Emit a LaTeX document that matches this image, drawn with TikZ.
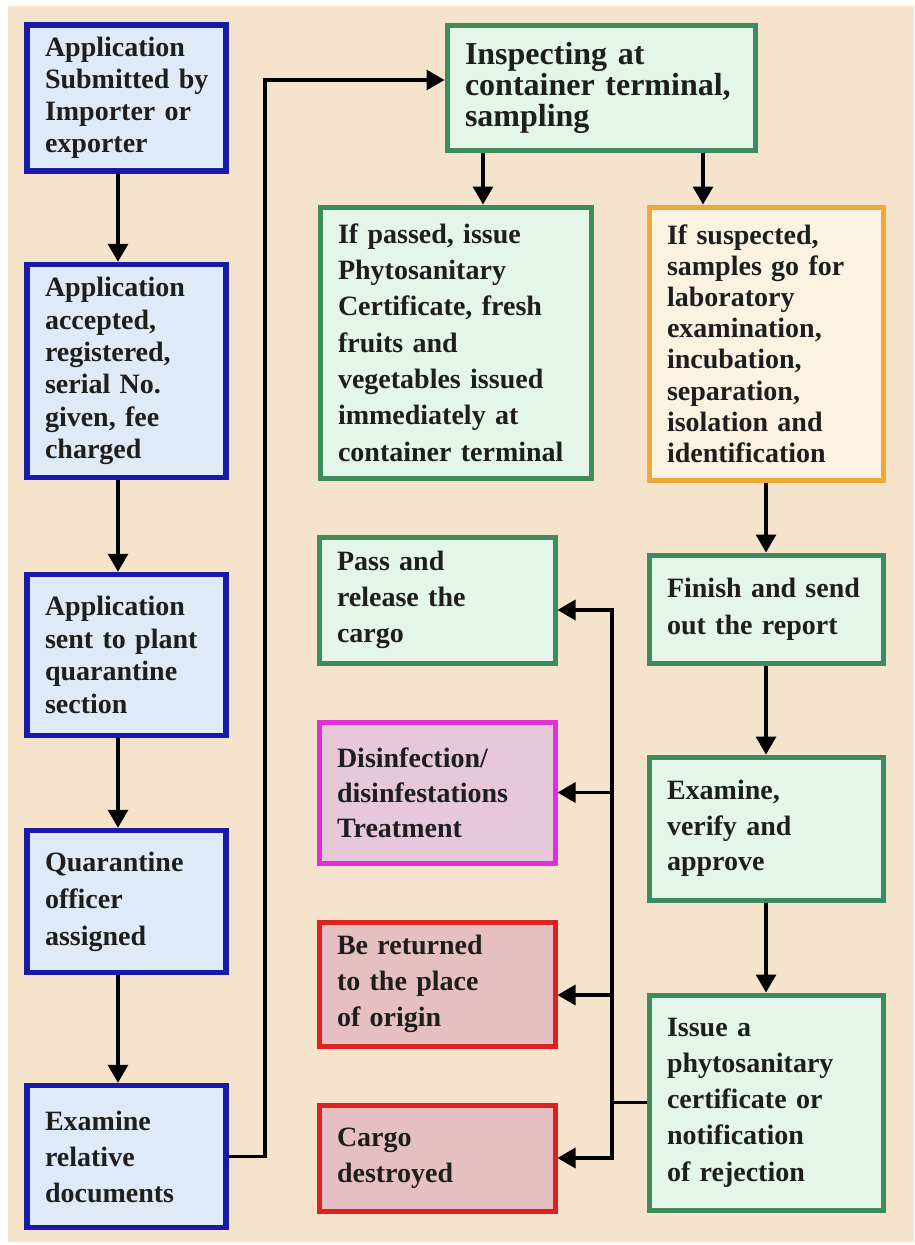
\documentclass[tikz,border=0pt]{standalone}
\usepackage{fontspec}
\setmainfont{Liberation Serif}
\usetikzlibrary{arrows.meta}

\definecolor{peach}{HTML}{F5E3CB}
\definecolor{blueline}{HTML}{1A1AA8}
\definecolor{bluefill}{HTML}{DFEAF8}
\definecolor{greenline}{HTML}{3E8C5E}
\definecolor{greenfill}{HTML}{E4F6EA}
\definecolor{orangeline}{HTML}{F0A83A}
\definecolor{orangefill}{HTML}{FBF2E2}
\definecolor{magline}{HTML}{E030D8}
\definecolor{magfill}{HTML}{E6C8DA}
\definecolor{redline}{HTML}{DD2222}
\definecolor{redfill}{HTML}{E6BFC3}
\definecolor{ink}{HTML}{1E1E1E}

% bold serif at a given size and line spacing (in pt)
\newcommand{\fsz}[2]{\fontsize{#1pt}{#2pt}\selectfont\bfseries}

\begin{document}
\begin{tikzpicture}[x=1pt,y=-1pt,
  box/.style={draw, rectangle, line width=5pt, inner xsep=18pt, inner ysep=0pt,
              align=left, text=ink, font=\fsz{28}{32}},
  bluebox/.style={box, line width=5.5pt, draw=blueline, fill=bluefill},
  greenbox/.style={box, draw=greenline, fill=greenfill},
  orangebox/.style={box, draw=orangeline, fill=orangefill},
  magbox/.style={box, draw=magline, fill=magfill},
  redbox/.style={box, draw=redline, fill=redfill},
  link/.style={line width=3.2pt, draw=black},
  arr/.style={link, -{Triangle[width=20pt,length=18pt]}}
]
\useasboundingbox (0,0) rectangle (914,1245);
\fill[white] (0,0) rectangle (914,1245);
\fill[peach] (8,6) rectangle (914,1242);

% left column: application handling
\node[bluebox, minimum width=199pt, minimum height=146pt, text width=163pt]
  (submit) at (126.5,98) {Application\\Submitted~by\\Importer or\\exporter};
\node[bluebox, minimum width=199pt, minimum height=213pt, text width=163pt, font=\fsz{28}{32.4}]
  (accept) at (126.5,371) {Application\\accepted,\\registered,\\serial No.\\given, fee\\charged};
\node[bluebox, minimum width=199pt, minimum height=161pt, text width=163pt, font=\fsz{28}{32.4}]
  (sent) at (126.5,655) {Application\\sent to plant\\quarantine\\section};
\node[bluebox, minimum width=199pt, minimum height=142pt, text width=163pt, font=\fsz{28}{37}]
  (officer) at (126.5,901.5) {Quarantine\\officer\\assigned};
\node[bluebox, minimum width=199pt, minimum height=142pt, text width=163pt, font=\fsz{28}{36}]
  (docs) at (126.5,1156.5) {Examine\\relative\\documents};

% inspection and its two outcomes
\node[greenbox, minimum width=308pt, minimum height=125pt, text width=272pt, font=\fsz{32}{31}]
  (insp) at (601,87.5) {Inspecting at\\container terminal,\\sampling};
\node[greenbox, minimum width=271pt, minimum height=271pt, text width=235pt, font=\fsz{28}{36.3}]
  (okcert) at (455.5,342.5) {If passed, issue\\Phytosanitary\\Certificate, fresh\\fruits and\\vegetables issued\\immediately at\\container terminal};
\node[orangebox, minimum width=234pt, minimum height=273pt, text width=198pt, font=\fsz{28}{31.2}]
  (lab) at (766,343.5) {If suspected,\\samples go for\\laboratory\\examination,\\incubation,\\separation,\\isolation and\\identification};

% laboratory branch
\node[greenbox, minimum width=234pt, minimum height=108pt, text width=198pt, font=\fsz{28}{37}]
  (report) at (766,609) {Finish and send\\out the report};
\node[greenbox, minimum width=234pt, minimum height=143pt, text width=198pt, font=\fsz{28}{35.5}]
  (approve) at (766,828.5) {Examine,\\verify and\\approve};
\node[greenbox, minimum width=234pt, minimum height=215pt, text width=198pt, font=\fsz{28}{36.3}]
  (issue) at (766,1102.5) {Issue a\\phytosanitary\\certificate or\\notification\\of rejection};

% possible decisions
\node[greenbox, minimum width=236pt, minimum height=126pt, text width=200pt, font=\fsz{28}{36}]
  (release) at (437,600) {Pass and\\release the\\cargo};
\node[magbox, minimum width=236pt, minimum height=141pt, text width=200pt, font=\fsz{28}{35}]
  (treat) at (437,792.5) {Disinfection/\\disinfestations\\Treatment};
\node[redbox, minimum width=236pt, minimum height=124pt, text width=200pt, font=\fsz{28}{36}]
  (back) at (437,984) {Be returned\\to the place\\of origin};
\node[redbox, minimum width=236pt, minimum height=106pt, text width=200pt, font=\fsz{28}{36}]
  (destroy) at (437,1158) {Cargo\\destroyed};

% left column flow
\draw[arr] ([xshift=-8.5pt]submit.south) -- ([xshift=-8.5pt]accept.north);
\draw[arr] ([xshift=-8.5pt]accept.south) -- ([xshift=-8.5pt]sent.north);
\draw[arr] ([xshift=-8.5pt]sent.south) -- ([xshift=-8.5pt]officer.north);
\draw[arr] ([xshift=-8.5pt]officer.south) -- ([xshift=-8.5pt]docs.north);

% documents go on to inspection
\coordinate (bend) at (265,80);
\draw[arr] (docs.east) -| (bend) -- ([yshift=7.5pt]insp.west);

% inspection outcomes
\draw[arr] ([xshift=-118pt]insp.south) -- ([xshift=-118pt]insp.south |- okcert.north);
\draw[arr] ([xshift=102pt]insp.south) -- ([xshift=102pt]insp.south |- lab.north);

% laboratory chain
\draw[arr] (lab.south) -- (report.north);
\draw[arr] (report.south) -- (approve.north);
\draw[arr] (approve.south) -- (issue.north);

% decision bus
\coordinate (bt) at (612,610);
\coordinate (bm) at (612,1102.5);
\coordinate (bb) at (612,1158);
\draw[link] (issue.west) -- (bm);
\draw[arr] (bm) -- (bt) -- (release.east |- bt);
\draw[arr] (bm) -- (bb) -- (destroy.east);
\draw[arr] (treat.east -| bt) -- (treat.east);
\draw[arr] ([yshift=-11pt]back.east -| bt) -- ([yshift=-11pt]back.east);
\end{tikzpicture}
\end{document}
